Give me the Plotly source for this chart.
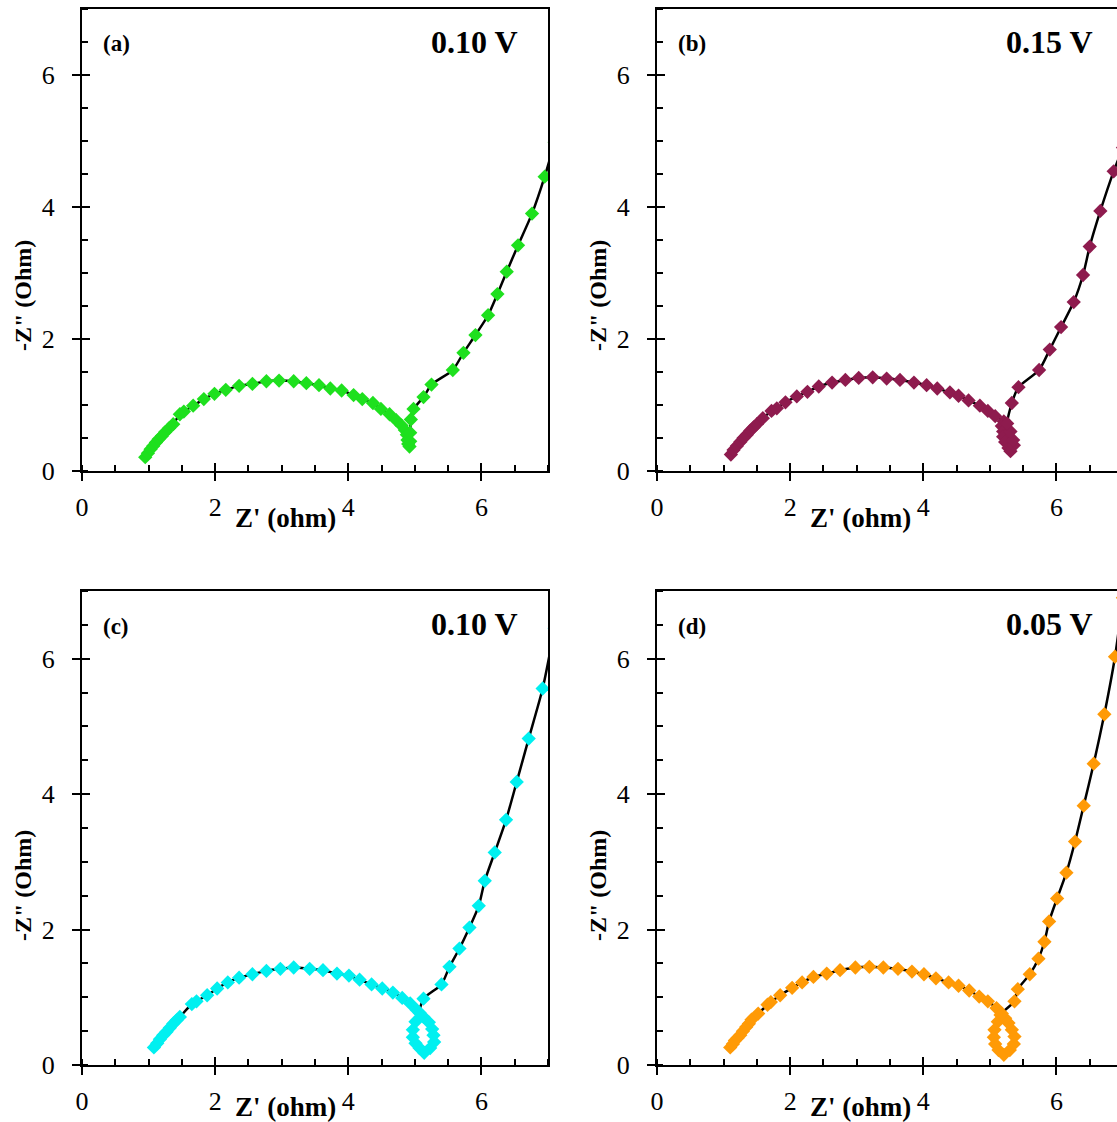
import plotly.graph_objects as go

# Nyquist data (Z' in ohm, -Z'' in ohm) for the four electrodes
za_re = [0.95, 0.99, 1.03, 1.07, 1.11, 1.15, 1.20, 1.25, 1.31, 1.37, 1.47, 1.53, 1.67, 1.83, 1.99,
         2.16, 2.36, 2.56, 2.77, 2.96, 3.18, 3.37, 3.56, 3.73, 3.90, 4.08, 4.21, 4.37, 4.49, 4.62,
         4.72, 4.80, 4.85, 4.88, 4.89, 4.90, 4.92, 4.93, 4.93, 4.94, 4.98, 5.13, 5.25, 5.57, 5.73,
         5.91, 6.10, 6.24, 6.38, 6.55, 6.76, 6.95, 7.10]
za_im = [0.21, 0.27, 0.33, 0.38, 0.43, 0.48, 0.53, 0.59, 0.65, 0.71, 0.86, 0.90, 0.99, 1.09, 1.17,
         1.23, 1.29, 1.32, 1.36, 1.37, 1.36, 1.33, 1.30, 1.25, 1.22, 1.15, 1.09, 1.03, 0.94, 0.86,
         0.77, 0.69, 0.62, 0.55, 0.47, 0.41, 0.37, 0.45, 0.58, 0.78, 0.94, 1.12, 1.31, 1.53, 1.79,
         2.06, 2.36, 2.68, 3.02, 3.42, 3.90, 4.46, 4.98]

zb_re = [1.11, 1.15, 1.20, 1.25, 1.30, 1.35, 1.40, 1.45, 1.50, 1.59, 1.72, 1.80, 1.93, 2.10, 2.26,
         2.43, 2.63, 2.83, 3.03, 3.24, 3.45, 3.65, 3.86, 4.05, 4.21, 4.40, 4.53, 4.68, 4.85, 4.97,
         5.08, 5.21, 5.18, 5.20, 5.20, 5.23, 5.28, 5.31, 5.36, 5.35, 5.31, 5.26, 5.33, 5.43, 5.74,
         5.90, 6.07, 6.26, 6.40, 6.50, 6.66, 6.86, 7.00]
zb_im = [0.25, 0.32, 0.38, 0.44, 0.50, 0.55, 0.61, 0.66, 0.71, 0.80, 0.91, 0.95, 1.04, 1.13, 1.20,
         1.28, 1.34, 1.38, 1.41, 1.42, 1.40, 1.38, 1.34, 1.30, 1.25, 1.19, 1.14, 1.07, 0.99, 0.91,
         0.83, 0.75, 0.68, 0.60, 0.52, 0.44, 0.35, 0.30, 0.39, 0.47, 0.60, 0.72, 1.03, 1.27, 1.53,
         1.84, 2.18, 2.56, 2.97, 3.40, 3.94, 4.54, 4.90]

zc_re = [1.08, 1.13, 1.17, 1.22, 1.27, 1.32, 1.37, 1.42, 1.47, 1.65, 1.72, 1.88, 2.03, 2.19, 2.36,
         2.56, 2.77, 2.98, 3.18, 3.42, 3.62, 3.83, 4.01, 4.17, 4.35, 4.51, 4.67, 4.81, 4.93, 5.03,
         5.01, 4.97, 4.97, 5.01, 5.07, 5.14, 5.23, 5.29, 5.28, 5.26, 5.21, 5.13, 5.07, 5.13, 5.40,
         5.52, 5.67, 5.82, 5.96, 6.05, 6.20, 6.37, 6.53, 6.71, 6.92, 7.10]
zc_im = [0.26, 0.32, 0.38, 0.44, 0.49, 0.55, 0.61, 0.66, 0.71, 0.90, 0.94, 1.03, 1.13, 1.22, 1.29,
         1.34, 1.39, 1.42, 1.44, 1.42, 1.40, 1.35, 1.32, 1.26, 1.19, 1.13, 1.07, 0.99, 0.91, 0.81,
         0.64, 0.52, 0.41, 0.32, 0.25, 0.18, 0.25, 0.34, 0.44, 0.53, 0.63, 0.71, 0.77, 0.98, 1.19,
         1.45, 1.72, 2.03, 2.35, 2.72, 3.14, 3.62, 4.18, 4.82, 5.56, 6.45]

zd_re = [1.10, 1.14, 1.17, 1.21, 1.25, 1.29, 1.34, 1.38, 1.42, 1.52, 1.66, 1.71, 1.85, 2.03, 2.18,
         2.35, 2.55, 2.75, 2.98, 3.19, 3.40, 3.62, 3.83, 4.01, 4.19, 4.38, 4.53, 4.69, 4.84, 4.97,
         5.10, 5.16, 5.12, 5.07, 5.06, 5.08, 5.13, 5.21, 5.30, 5.36, 5.37, 5.33, 5.28, 5.23, 5.18,
         5.37, 5.42, 5.60, 5.73, 5.82, 5.89, 6.01, 6.15, 6.28, 6.41, 6.56, 6.72, 6.88, 7.00]
zd_im = [0.26, 0.31, 0.36, 0.40, 0.44, 0.50, 0.56, 0.61, 0.67, 0.76, 0.89, 0.93, 1.03, 1.14, 1.22,
         1.30, 1.35, 1.40, 1.44, 1.45, 1.44, 1.42, 1.38, 1.34, 1.28, 1.22, 1.17, 1.10, 1.01, 0.94,
         0.84, 0.74, 0.64, 0.52, 0.41, 0.31, 0.22, 0.15, 0.22, 0.31, 0.42, 0.52, 0.62, 0.69, 0.76,
         0.94, 1.12, 1.34, 1.57, 1.82, 2.12, 2.46, 2.84, 3.30, 3.83, 4.45, 5.18, 6.03, 6.90]

panel_tags = ["(a)", "(b)", "(c)", "(d)"]
panel_volts = ["0.10 V", "0.15 V", "0.10 V", "0.05 V"]
marker_colors = ["#1EE01E", "#8E1B4E", "#00F0F0", "#FF9A06"]
tick_vals = [0, 2, 4, 6]
x_title = "Z' (ohm)"
y_title = '-Z" (Ohm)'

series = [(za_re, za_im), (zb_re, zb_im), (zc_re, zc_im), (zd_re, zd_im)]

W, H = 1117, 1122
SERIF = "Liberation Serif"

# plot-area boxes in pixels: (left, right, top, bottom)
boxes = [(82, 548, 9, 471), (657, 1117, 9, 471), (82, 548, 591, 1065), (657, 1117, 591, 1065)]
x_ranges = [[0, 7], [0, 6.91], [0, 7], [0, 6.91]]
# vertical centre of the rotated y title and of the x title, in pixels
ytitle_cy = [296, 296, 886, 886]
xtitle_cy = [518, 518, 1107, 1107]

fig = go.Figure()
layout = dict(width=W, height=H, margin=dict(l=0, r=0, t=0, b=0, autoexpand=False),
              paper_bgcolor="white", plot_bgcolor="white", showlegend=False)
annotations = []

tick_common = dict(tickmode="array", tickvals=tick_vals, ticklen=8, tickwidth=1.6, tickcolor="black")
minor_common = dict(ticks="inside", dtick=0.5, ticklen=6, tickwidth=1.6, tickcolor="black", showgrid=False)

for i, (xs, ys) in enumerate(series):
    n = i + 1
    sfx = "" if n == 1 else str(n)
    ov = str(n + 4)
    l, r, t, b = boxes[i]
    xdom = [l / W, min(r / W, 1.0)]
    ydom = [1 - b / H, 1 - t / H]

    fig.add_trace(go.Scatter(
        x=xs, y=ys, mode="lines+markers", xaxis="x" + sfx, yaxis="y" + sfx,
        line=dict(color="black", width=2.5, shape="spline", smoothing=0.6),
        marker=dict(symbol="diamond", size=11, color=marker_colors[i], line=dict(width=0)),
    ))
    # empty trace carrying the overlay axes (inner half of the major ticks)
    fig.add_trace(go.Scatter(x=[], y=[], mode="markers", xaxis="x" + ov, yaxis="y" + ov,
                             showlegend=False, hoverinfo="skip"))

    right_closed = r <= W - 2
    layout["xaxis" + sfx] = dict(
        domain=xdom, range=x_ranges[i], anchor="y" + sfx, automargin=False,
        showline=True, linecolor="black", linewidth=2, mirror=True,
        showgrid=False, zeroline=False, ticks="outside", ticklabelstandoff=4,
        minor=minor_common, tickfont=dict(family=SERIF, size=26, color="black"),
        **tick_common,
    )
    layout["yaxis" + sfx] = dict(
        domain=ydom, range=[0, 7], anchor="x" + sfx, automargin=False,
        showline=True, linecolor="black", linewidth=2, mirror=right_closed,
        showgrid=False, zeroline=False, ticks="outside", ticklabelstandoff=12,
        minor=minor_common, tickfont=dict(family=SERIF, size=26, color="black"),
        **tick_common,
    )
    layout["xaxis" + ov] = dict(
        domain=xdom, range=x_ranges[i], overlaying="x" + sfx, anchor="y" + sfx, side="bottom",
        automargin=False, showline=False, showgrid=False, zeroline=False, showticklabels=False,
        ticks="inside", **tick_common,
    )
    layout["yaxis" + ov] = dict(
        domain=ydom, range=[0, 7], overlaying="y" + sfx, anchor="x" + sfx, side="left",
        automargin=False, showline=False, showgrid=False, zeroline=False, showticklabels=False,
        ticks="inside", **tick_common,
    )

    # panel tag and potential
    annotations.append(dict(text="<b>%s</b>" % panel_tags[i], xref="paper", yref="paper",
                            x=(l + 19) / W, y=1 - (t + 35) / H, xanchor="left", yanchor="middle",
                            showarrow=False, font=dict(family=SERIF, size=23, color="black")))
    annotations.append(dict(text="<b>%s</b>" % panel_volts[i], xref="paper", yref="paper",
                            x=(l + 438) / W, y=1 - (t + 33) / H, xanchor="right", yanchor="middle",
                            showarrow=False, font=dict(family=SERIF, size=32, color="black")))
    # axis titles
    annotations.append(dict(text="<b>%s</b>" % x_title, xref="paper", yref="paper",
                            x=(l + 203) / W, y=1 - xtitle_cy[i] / H, xanchor="center", yanchor="middle",
                            showarrow=False, font=dict(family=SERIF, size=27, color="black")))
    annotations.append(dict(text="<b>%s</b>" % y_title, xref="paper", yref="paper",
                            x=(l - 59) / W, y=1 - ytitle_cy[i] / H, xanchor="center", yanchor="middle",
                            textangle=-90, showarrow=False, font=dict(family=SERIF, size=24, color="black")))

layout["annotations"] = annotations
fig.update_layout(**layout)
fig.write_html("out.html")
